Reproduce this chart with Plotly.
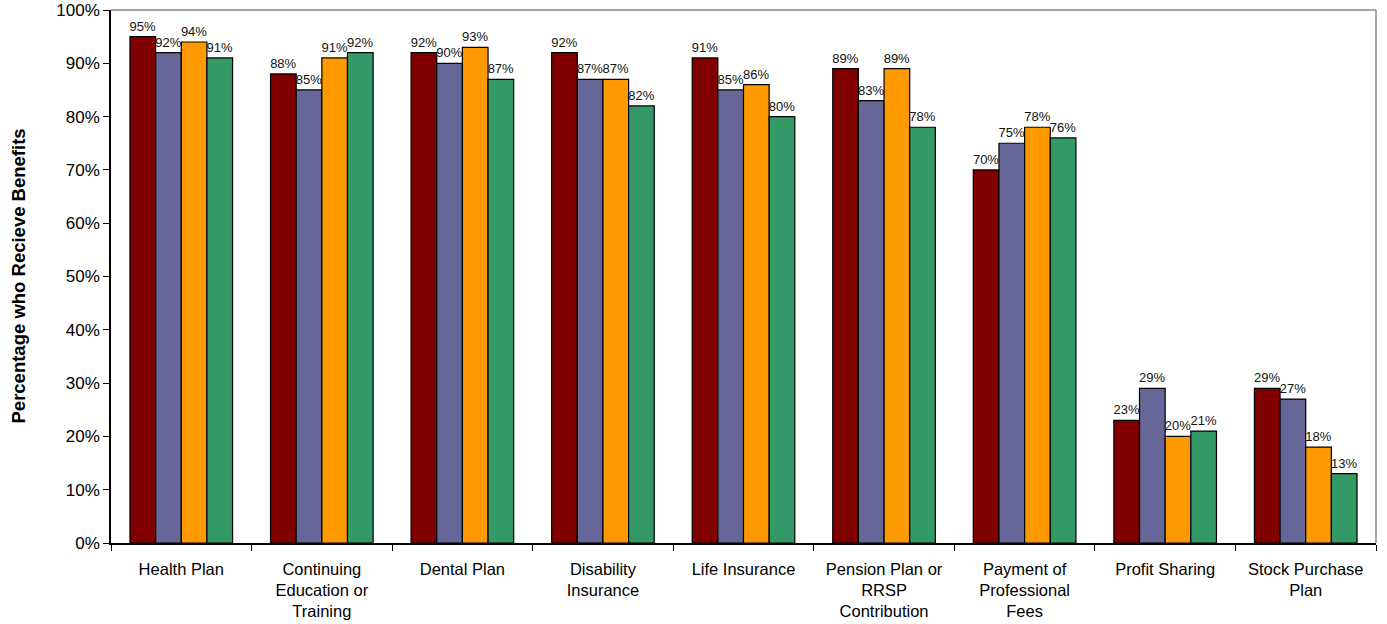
import plotly.graph_objects as go

categories = ["Health Plan", "Continuing<br>Education or<br>Training", "Dental Plan",
              "Disability<br>Insurance", "Life Insurance", "Pension Plan or<br>RRSP<br>Contribution",
              "Payment of<br>Professional<br>Fees", "Profit Sharing", "Stock Purchase<br>Plan"]
series_a = [95, 88, 92, 92, 91, 89, 70, 23, 29]
series_b = [92, 85, 90, 87, 85, 83, 75, 29, 27]
series_c = [94, 91, 93, 87, 86, 89, 78, 20, 18]
series_d = [91, 92, 87, 82, 80, 78, 76, 21, 13]
series_names = ["Series 1", "Series 2", "Series 3", "Series 4"]
colors = ["#800000", "#666699", "#FF9900", "#339966"]
y_title = "Percentage who Recieve Benefits"

fig = go.Figure()
for name, vals, col in zip(series_names, [series_a, series_b, series_c, series_d], colors):
    fig.add_trace(go.Bar(
        x=categories, y=[v / 100 for v in vals], name=name,
        marker=dict(color=col, line=dict(color="black", width=1.2)),
        text=[f"{v}%" for v in vals], textposition="outside",
        textfont=dict(family="Arial, Liberation Sans, sans-serif", size=13, color="#111111"),
        cliponaxis=False,
    ))

fig.update_layout(
    barmode="group", bargap=0.27, bargroupgap=0,
    width=1387, height=624,
    margin=dict(l=111, r=11, t=10, b=81, autoexpand=False),
    plot_bgcolor="white", paper_bgcolor="white",
    showlegend=False,
    font=dict(family="Arial, Liberation Sans, sans-serif", size=17, color="black"),
    uniformtext=dict(minsize=13, mode="show"),
)
fig.update_yaxes(
    range=[0, 1], tickformat=".0%", dtick=0.1, showgrid=False,
    showline=True, linecolor="black", linewidth=1.5,
    ticks="outside", ticklen=6, tickcolor="black",
    zeroline=False, automargin=False,
)
fig.update_xaxes(
    showline=True, linecolor="black", linewidth=1.5,
    ticks="outside", tickson="boundaries", ticklen=6, tickcolor="black",
    showgrid=False, automargin=False, ticklabelstandoff=10,
    tickfont=dict(size=16.5),
)
fig.add_annotation(
    text=f"<b>{y_title}</b>", textangle=-90, showarrow=False,
    xref="paper", yref="paper", x=0, y=0.5, xanchor="center", yanchor="middle",
    xshift=-93, font=dict(size=18.5),
)
fig.add_shape(type="line", xref="paper", yref="paper", x0=0, x1=1, y0=1, y1=1,
              line=dict(color="#888888", width=1.5))
fig.add_shape(type="line", xref="paper", yref="paper", x0=1, x1=1, y0=0, y1=1,
              line=dict(color="#888888", width=1.5))

fig.write_html("out.html")
